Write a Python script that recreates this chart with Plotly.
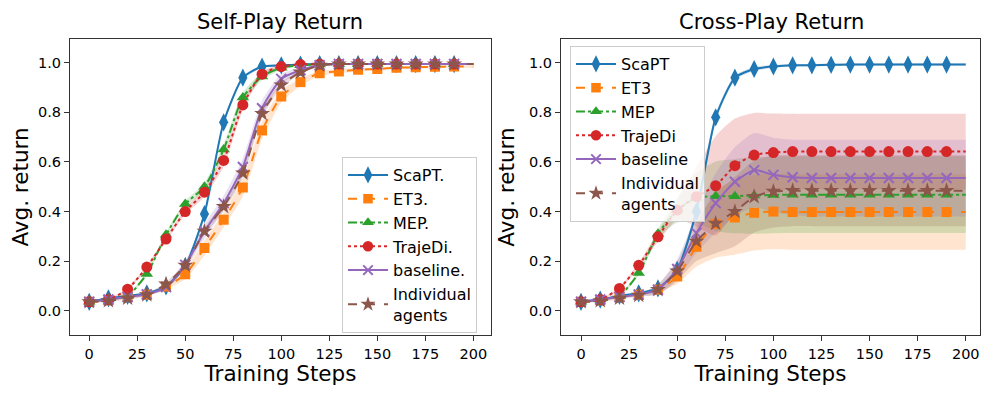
import plotly.graph_objects as go

steps = list( range( 0, 201, 10 ) )

# Self-play return (mean, spread)
sp_scapt = [0.036, 0.05, 0.06, 0.07, 0.098, 0.18, 0.39, 0.76, 0.94, 0.985, 0.99, 0.993, 0.995, 0.995, 0.995, 0.995, 0.995, 0.995, 0.995, 0.995, 0.995]
sp_et3 = [0.036, 0.042, 0.055, 0.065, 0.097, 0.147, 0.253, 0.367, 0.497, 0.727, 0.864, 0.922, 0.958, 0.965, 0.972, 0.975, 0.98, 0.982, 0.984, 0.985, 0.985]
sp_mep = [0.036, 0.045, 0.06, 0.148, 0.306, 0.43, 0.50, 0.65, 0.86, 0.945, 0.98, 0.99, 0.993, 0.995, 0.995, 0.995, 0.995, 0.995, 0.995, 0.995, 0.995]
sp_trajedi = [0.036, 0.045, 0.087, 0.176, 0.289, 0.40, 0.478, 0.606, 0.83, 0.954, 0.985, 0.993, 0.995, 0.995, 0.995, 0.995, 0.995, 0.995, 0.995, 0.995, 0.995]
sp_baseline = [0.036, 0.045, 0.055, 0.066, 0.095, 0.185, 0.32, 0.434, 0.58, 0.817, 0.935, 0.97, 0.99, 0.995, 0.995, 0.995, 0.995, 0.995, 0.995, 0.995, 0.995]
sp_indiv = [0.036, 0.04, 0.05, 0.064, 0.107, 0.183, 0.32, 0.42, 0.555, 0.795, 0.91, 0.962, 0.99, 0.995, 0.995, 0.995, 0.995, 0.995, 0.995, 0.995, 0.995]

sp_scapt_sd = [0.004, 0.004, 0.004, 0.005, 0.006, 0.008, 0.012, 0.01, 0.008, 0.005, 0.004, 0.003, 0.003, 0.003, 0.003, 0.003, 0.003, 0.003, 0.003, 0.003, 0.003]
sp_et3_sd = [0.004, 0.004, 0.005, 0.006, 0.01, 0.02, 0.03, 0.03, 0.035, 0.035, 0.025, 0.015, 0.01, 0.008, 0.006, 0.005, 0.005, 0.005, 0.005, 0.005, 0.005]
sp_mep_sd = [0.004, 0.004, 0.005, 0.008, 0.01, 0.012, 0.015, 0.02, 0.02, 0.015, 0.008, 0.005, 0.004, 0.003, 0.003, 0.003, 0.003, 0.003, 0.003, 0.003, 0.003]
sp_trajedi_sd = [0.004, 0.004, 0.005, 0.008, 0.01, 0.012, 0.018, 0.025, 0.02, 0.012, 0.006, 0.004, 0.003, 0.003, 0.003, 0.003, 0.003, 0.003, 0.003, 0.003, 0.003]
sp_baseline_sd = [0.004, 0.004, 0.005, 0.006, 0.01, 0.018, 0.03, 0.03, 0.035, 0.03, 0.02, 0.01, 0.006, 0.004, 0.003, 0.003, 0.003, 0.003, 0.003, 0.003, 0.003]
sp_indiv_sd = [0.004, 0.004, 0.005, 0.006, 0.008, 0.012, 0.015, 0.018, 0.02, 0.018, 0.012, 0.008, 0.005, 0.004, 0.003, 0.003, 0.003, 0.003, 0.003, 0.003, 0.003]

# Cross-play return (mean, spread)
cp_scapt = [0.036, 0.045, 0.06, 0.07, 0.09, 0.165, 0.40, 0.78, 0.94, 0.975, 0.985, 0.99, 0.99, 0.992, 0.993, 0.993, 0.993, 0.993, 0.993, 0.993, 0.993]
cp_et3 = [0.036, 0.042, 0.055, 0.065, 0.085, 0.138, 0.258, 0.35, 0.376, 0.395, 0.40, 0.398, 0.398, 0.398, 0.398, 0.398, 0.398, 0.398, 0.398, 0.398, 0.398]
cp_mep = [0.036, 0.045, 0.06, 0.152, 0.31, 0.406, 0.455, 0.462, 0.462, 0.465, 0.467, 0.468, 0.468, 0.468, 0.468, 0.468, 0.468, 0.468, 0.468, 0.468, 0.468]
cp_trajedi = [0.036, 0.045, 0.09, 0.183, 0.298, 0.406, 0.46, 0.504, 0.585, 0.628, 0.638, 0.642, 0.642, 0.642, 0.642, 0.642, 0.642, 0.642, 0.642, 0.642, 0.642]
cp_baseline = [0.036, 0.045, 0.055, 0.065, 0.085, 0.168, 0.313, 0.434, 0.52, 0.567, 0.548, 0.538, 0.535, 0.535, 0.535, 0.535, 0.535, 0.535, 0.535, 0.535, 0.535]
cp_indiv = [0.036, 0.04, 0.05, 0.062, 0.085, 0.16, 0.28, 0.352, 0.40, 0.46, 0.481, 0.484, 0.484, 0.484, 0.484, 0.484, 0.484, 0.484, 0.484, 0.484, 0.484]

cp_scapt_sd = [0.004, 0.004, 0.004, 0.005, 0.006, 0.01, 0.02, 0.015, 0.01, 0.008, 0.006, 0.005, 0.005, 0.005, 0.005, 0.005, 0.005, 0.005, 0.005, 0.005, 0.005]
cp_et3_sd = [0.004, 0.004, 0.005, 0.005, 0.01, 0.03, 0.08, 0.136, 0.15, 0.152, 0.152, 0.152, 0.152, 0.152, 0.152, 0.152, 0.152, 0.152, 0.152, 0.152, 0.152]
cp_mep_sd = [0.004, 0.004, 0.005, 0.01, 0.02, 0.05, 0.1, 0.14, 0.15, 0.155, 0.155, 0.155, 0.155, 0.155, 0.155, 0.155, 0.155, 0.155, 0.155, 0.155, 0.155]
cp_trajedi_sd = [0.004, 0.004, 0.005, 0.01, 0.02, 0.04, 0.12, 0.2, 0.19, 0.17, 0.157, 0.152, 0.152, 0.152, 0.152, 0.152, 0.152, 0.152, 0.152, 0.152, 0.152]
cp_baseline_sd = [0.004, 0.004, 0.005, 0.006, 0.02, 0.04, 0.08, 0.12, 0.14, 0.15, 0.15, 0.152, 0.155, 0.155, 0.155, 0.155, 0.155, 0.155, 0.155, 0.155, 0.155]
cp_indiv_sd = [0.004, 0.004, 0.005, 0.006, 0.02, 0.04, 0.08, 0.12, 0.14, 0.145, 0.145, 0.143, 0.143, 0.143, 0.143, 0.143, 0.143, 0.143, 0.143, 0.143, 0.143]

x_ticks = [0, 25, 50, 75, 100, 125, 150, 175, 200]
y_ticks = [0.0, 0.2, 0.4, 0.6, 0.8, 1.0]

FONT = "DejaVu Sans"
# page has an 8px body margin, so the figure is drawn 8px in and down
OFF = 8
W = 997 - OFF
H = 399 - OFF

def _px( p ):
    return ( p - OFF ) / W

def _py( p ):
    return 1 - ( p - OFF ) / H

styles = [
    # color, rgb, dash, symbol, marker size
    ( "#1f77b4", "31,119,180", "solid", "diamond-tall", 13 ),
    ( "#ff7f0e", "255,127,14", "dash", "square", 10 ),
    ( "#2ca02c", "44,160,44", "dashdot", "triangle-up", 11 ),
    ( "#d62728", "214,39,40", "dot", "circle", 11 ),
    ( "#9467bd", "148,103,189", "solid", "x-thin", 10 ),
    ( "#8c564b", "140,86,75", "dash", "star", 12 ),
]

def _add_panel( fig, means, sds, names, xa, ya, legend ):
    # bands first so the lines sit on top
    for m, s, st in zip( means, sds, styles ):
        upper = [a + b for a, b in zip( m, s )]
        lower = [a - b for a, b in zip( m, s )]
        fig.add_trace( go.Scatter( x=steps, y=upper, mode="lines", line={ "width" : 0, "shape" : "spline", "smoothing" : 0.6 },
                                   xaxis=xa, yaxis=ya, showlegend=False, hoverinfo="skip" ) )
        fig.add_trace( go.Scatter( x=steps, y=lower, mode="lines", line={ "width" : 0, "shape" : "spline", "smoothing" : 0.6 },
                                   fill="tonexty", fillcolor=f"rgba({st[1]},0.2)",
                                   xaxis=xa, yaxis=ya, showlegend=False, hoverinfo="skip" ) )
    n = len( steps ) - 1
    for m, name, st in zip( means, names, styles ):
        # no marker on the last point (line runs on to 200)
        marker = { "symbol" : st[3], "size" : [st[4]] * n + [0], "color" : st[0], "opacity" : 1,
                   "line" : { "width" : 0, "color" : st[0] } }
        if st[3] == "x-thin":
            marker["line"]["width"] = 2
        fig.add_trace( go.Scatter( x=steps, y=m, mode="lines+markers", name=name,
                                   line={ "color" : st[0], "width" : 2, "dash" : st[2], "shape" : "spline", "smoothing" : 0.6 },
                                   marker=marker, xaxis=xa, yaxis=ya, legend=legend ) )

fig = go.Figure()
_add_panel( fig, [sp_scapt, sp_et3, sp_mep, sp_trajedi, sp_baseline, sp_indiv],
            [sp_scapt_sd, sp_et3_sd, sp_mep_sd, sp_trajedi_sd, sp_baseline_sd, sp_indiv_sd],
            ["ScaPT.", "ET3.", "MEP.", "TrajeDi.", "baseline.", "Individual<br>agents"], "x", "y", "legend" )
_add_panel( fig, [cp_scapt, cp_et3, cp_mep, cp_trajedi, cp_baseline, cp_indiv],
            [cp_scapt_sd, cp_et3_sd, cp_mep_sd, cp_trajedi_sd, cp_baseline_sd, cp_indiv_sd],
            ["ScaPT", "ET3", "MEP", "TrajeDi", "baseline", "Individual<br>agents"], "x2", "y2", "legend2" )

axis_common = dict( showline=True, mirror=True, linecolor="#333333", linewidth=1.2, ticks="outside", ticklen=5,
                    tickcolor="#333333", showgrid=False, zeroline=False, tickfont={ "size" : 14.5, "color" : "black" } )
yb = [_py( 335 ), _py( 39 )]
legend_common = dict( xanchor="left", yanchor="top", bgcolor="rgba(255,255,255,0.8)", traceorder="normal",
                      bordercolor="#cccccc", borderwidth=1, font={ "size" : 16 }, itemwidth=40 )
fig.update_layout(
    width=W, height=H,
    template="simple_white",
    plot_bgcolor="#ffffff",
    paper_bgcolor="#ffffff",
    margin={ "r" : 0, "t" : 0, "l" : 0, "b" : 0 },
    font={ "family" : FONT, "color" : "black" },
    xaxis=dict( domain=[_px( 70 ), _px( 491 )], range=[-10, 209.2], tickvals=x_ticks, anchor="y",
                title={ "text" : "Training Steps", "font" : { "size" : 21.5 }, "standoff" : 3 }, **axis_common ),
    yaxis=dict( domain=yb, range=[-0.098, 1.096], tickvals=y_ticks, tickformat=".1f", anchor="x",
                title={ "text" : "Avg. return", "font" : { "size" : 21.5 }, "standoff" : 8 }, **axis_common ),
    xaxis2=dict( domain=[_px( 561 ), _px( 980 )], range=[-10.4, 207.4], tickvals=x_ticks, anchor="y2",
                 title={ "text" : "Training Steps", "font" : { "size" : 21.5 }, "standoff" : 3 }, **axis_common ),
    yaxis2=dict( domain=yb, range=[-0.098, 1.096], tickvals=y_ticks, tickformat=".1f", anchor="x2",
                 title={ "text" : "Avg. return", "font" : { "size" : 21.5 }, "standoff" : 8 }, **axis_common ),
    legend=dict( x=_px( 342 ), y=_py( 157 ), **legend_common ),
    legend2=dict( x=_px( 570 ), y=_py( 46 ), **legend_common ),
    showlegend=True,
)
fig.add_annotation( text="Self-Play Return", x=_px( 280 ), y=_py( 22 ), xref="paper", yref="paper",
                    showarrow=False, font={ "size" : 21 }, xanchor="center", yanchor="middle" )
fig.add_annotation( text="Cross-Play Return", x=_px( 771 ), y=_py( 22 ), xref="paper", yref="paper",
                    showarrow=False, font={ "size" : 21 }, xanchor="center", yanchor="middle" )

fig.write_html( "out.html" )
